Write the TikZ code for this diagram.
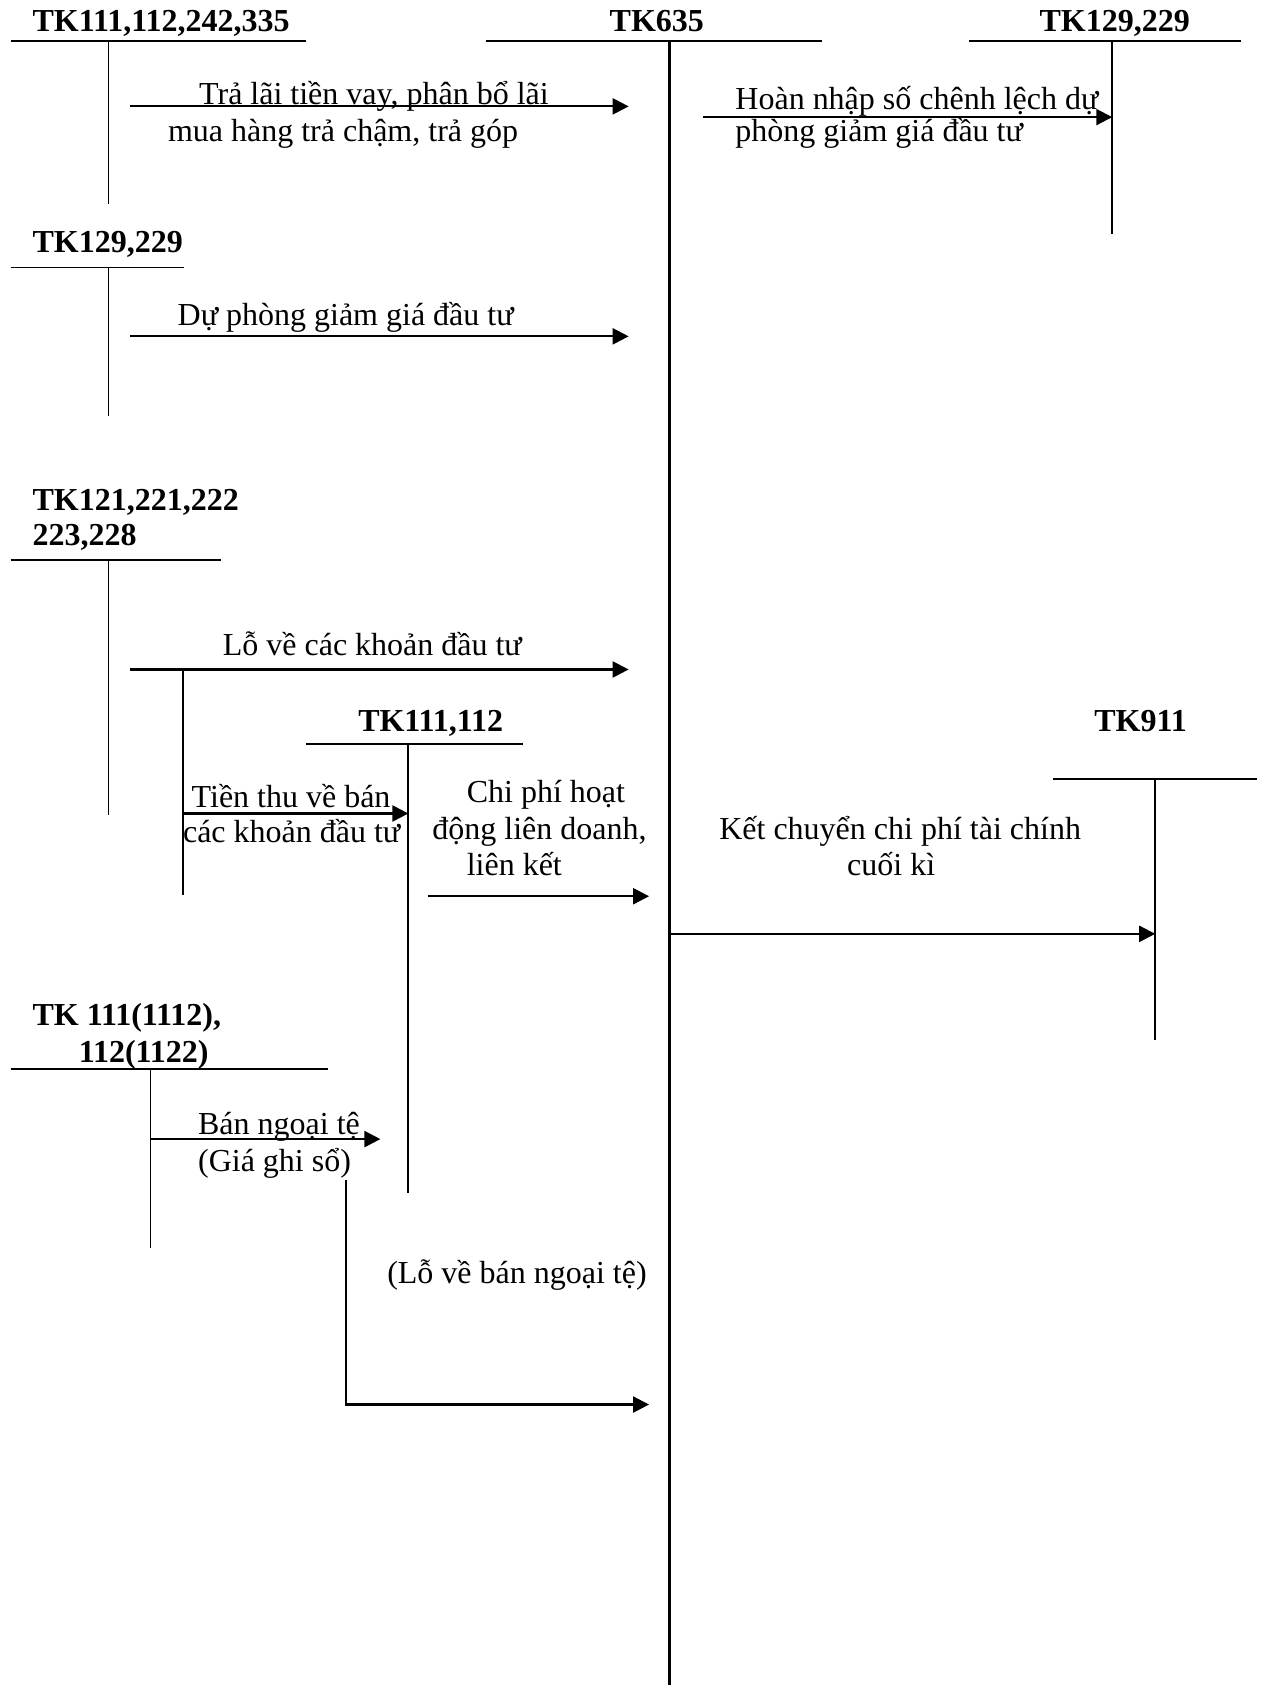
\documentclass[tikz,border=0pt]{standalone}
\usepackage{fontspec}
\setmainfont{Liberation Serif}
\usetikzlibrary{arrows.meta}
\begin{document}
\begin{tikzpicture}[x=0.5374pt,y=-0.5374pt,
  tline/.style={line width=0.9pt},
  mainline/.style={line width=1.1pt},
  flow/.style={line width=1.1pt,-{Triangle[length=8pt,width=8pt]}},
  txt/.style={anchor=base west,inner sep=0pt,font=\fontsize{16}{18}\selectfont},
  hd/.style={anchor=base west,inner sep=0pt,font=\fontsize{16}{18}\selectfont\bfseries}]
\useasboundingbox (0,0) rectangle (1178,1568);

% ---------- T-account coordinates ----------
\coordinate (aL) at (10,38);   \coordinate (aR) at (285,38);
\coordinate (aT) at (101,38);  \coordinate (aB) at (101,190);
\coordinate (mL) at (452,38);  \coordinate (mR) at (765,38);
\coordinate (mT) at (623,38);  \coordinate (mB) at (623,1568);
\coordinate (rL) at (902,38);  \coordinate (rR) at (1155,38);
\coordinate (rT) at (1035,38); \coordinate (rB) at (1035,218);
\coordinate (bL) at (10,249);  \coordinate (bR) at (171,249);
\coordinate (bT) at (101,249); \coordinate (bB) at (101,387);
\coordinate (cL) at (10,521);  \coordinate (cR) at (206,521);
\coordinate (cT) at (101,521); \coordinate (cB) at (101,758);
\coordinate (dL) at (285,692); \coordinate (dR) at (487,692);
\coordinate (dT) at (380,692); \coordinate (dB) at (380,1110);
\coordinate (eL) at (980,725); \coordinate (eR) at (1170,725);
\coordinate (eT) at (1075,725);\coordinate (eB) at (1075,968);
\coordinate (fL) at (10,995);  \coordinate (fR) at (305,995);
\coordinate (fT) at (140,995); \coordinate (fB) at (140,1161);

\draw[tline] (aL) -- (aR); \draw[tline] (aT) -- (aB);
\draw[mainline] (mL) -- (mR); \draw[mainline] (mT) -- (mB);
\draw[tline] (rL) -- (rR); \draw[tline] (rT) -- (rB);
\draw[tline] (bL) -- (bR); \draw[tline] (bT) -- (bB);
\draw[tline] (cL) -- (cR); \draw[tline] (cT) -- (cB);
\draw[tline] (dL) -- (dR); \draw[tline] (dT) -- (dB);
\draw[tline] (eL) -- (eR); \draw[tline] (eT) -- (eB);
\draw[tline] (fL) -- (fR); \draw[tline] (fT) -- (fB);

% ---------- headings ----------
\node[hd] (hA) at (30,29) {TK111,112,242,335};
\node[hd] (hM) at (567,29) {TK635};
\node[hd] (hR) at (967,29) {TK129,229};
\node[hd] (hB) at (30,235) {TK129,229};
\node[hd] (hC1) at (30,475) {TK121,221,222};
\node[hd] (hC2) at (30,508) {223,228};
\node[hd] (hD) at (333,681) {TK111,112};
\node[hd] (hE) at (1018,681) {TK911};
\node[hd] (hF1) at (30,954) {TK 111(1112),};
\node[hd] (hF2) at (73,989) {112(1122)};

% ---------- arrow coordinates ----------
\coordinate (a1s) at (121,99);  \coordinate (a1e) at (585,99);
\coordinate (a2s) at (654,109); \coordinate (a2e) at (rT |- a2s);
\coordinate (a3s) at (121,313); \coordinate (a3e) at (585,313);
\coordinate (a4s) at (121,623); \coordinate (a4e) at (585,623);
\coordinate (brT) at (170,623); \coordinate (brB) at (170,833);
\coordinate (a5s) at (170,757); \coordinate (a5e) at (dT |- a5s);
\coordinate (a6s) at (398,834); \coordinate (a6e) at (604,834);
\coordinate (a7s) at (mT |- 0,869); \coordinate (a7e) at (eT |- a7s);
\coordinate (a8s) at (fT |- 0,1060); \coordinate (a8e) at (354,1060);
\coordinate (a9s) at (322,1098); \coordinate (a9c) at (322,1307);
\coordinate (a9e) at (604,1307);

\draw[flow] (a1s) -- (a1e);
\draw[flow] (a2s) -- (a2e);
\draw[flow] (a3s) -- (a3e);
\draw[flow] (a4s) -- (a4e);
\draw[tline] (brT) -- (brB);
\draw[flow] (a5s) -- (a5e);
\draw[flow] (a6s) -- (a6e);
\draw[flow] (a7s) -- (a7e);
\draw[flow] (a8s) -- (a8e);
\draw[flow] (a9s) -- (a9c) -- (a9e);

% ---------- labels ----------
\node[txt] (l1a) at (185,97.5) {Trả lãi tiền vay, phân bổ lãi};
\node[txt] (l1b) at (156,132) {mua hàng trả chậm, trả góp};
\node[txt] (l2a) at (684,102) {Hoàn nhập số chênh lệch dự};
\node[txt] (l2b) at (684,132) {phòng giảm giá đầu tư};
\node[txt] (l3) at (165,303) {Dự phòng giảm giá đầu tư};
\node[txt] (l4) at (207,610) {Lỗ về các khoản đầu tư};
\node[txt] (l5a) at (178,751) {Tiền thu về bán};
\node[txt] (l5b) at (170,784) {các khoản đầu tư};
\node[txt] (l6a) at (434,747) {Chi phí hoạt};
\node[txt] (l6b) at (402,781) {động liên doanh,};
\node[txt] (l6c) at (434,815) {liên kết};
\node[txt] (l7a) at (669,781) {Kết chuyển chi phí tài chính};
\node[txt] (l7b) at (788,815) {cuối kì};
\node[txt] (l8a) at (184,1056) {Bán ngoại tệ};
\node[txt] (l8b) at (184,1090) {(Giá ghi sổ)};
\node[txt] (l9) at (360,1194) {(Lỗ về bán ngoại tệ)};
\end{tikzpicture}
\end{document}
